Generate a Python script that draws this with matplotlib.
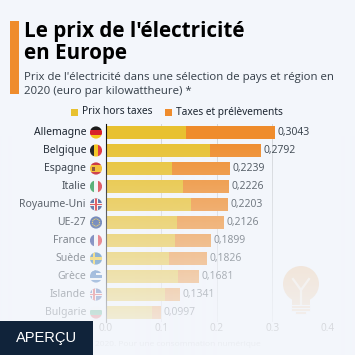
import numpy as np
import matplotlib
matplotlib.use('Agg')
import matplotlib.pyplot as plt
from matplotlib.patches import Circle, Rectangle

# data
pays = ['Allemagne', 'Belgique', 'Espagne', 'Italie', 'Royaume-Uni', 'UE-27',
        'France', 'Suède', 'Grèce', 'Islande', 'Bulgarie']
total = [0.3043, 0.2792, 0.2239, 0.2226, 0.2203, 0.2126,
         0.1899, 0.1826, 0.1681, 0.1341, 0.0997]
hors_taxes = [0.1444, 0.1876, 0.1192, 0.1390, 0.1534, 0.1282,
              0.1252, 0.1138, 0.1300, 0.1067, 0.0833]
taxes = [t - h for t, h in zip(total, hors_taxes)]
ticks = [0.0, 0.1, 0.2, 0.3, 0.4]

FOND = '#f3f6fb'
JAUNE = '#e8c130'
ORANGE = '#ef8c2c'

# stripes of each flag: direction, then colours
drapeaux = {
    'Allemagne': ('h', ['#1a1a1a', '#d8232a', '#f5c518']),
    'Belgique': ('v', ['#1a1a1a', '#f5c518', '#e0303a']),
    'Espagne': ('h', ['#c8202c', '#f4b81c', '#f4b81c', '#c8202c']),
    'Italie': ('v', ['#2f9e55', '#f4f4f4', '#d9363e']),
    'Royaume-Uni': ('h', ['#2b4a8c']),
    'UE-27': ('h', ['#2f4f98']),
    'France': ('v', ['#2b3f95', '#f4f4f4', '#e0303a']),
    'Suède': ('h', ['#1f68a8']),
    'Grèce': ('h', ['#2a65b0', '#f4f4f4', '#2a65b0', '#f4f4f4', '#2a65b0']),
    'Islande': ('h', ['#274b9b']),
    'Bulgarie': ('h', ['#f4f4f4', '#2a9a6a', '#d9363e']),
}
# crosses: colour, thickness
croix = {
    'Royaume-Uni': [('#f4f4f4', 3.4), ('#d8232a', 1.8)],
    'Suède': [('#f5c518', 2.6)],
    'Islande': [('#f4f4f4', 3.6), ('#d8232a', 1.8)],
}

plt.rcParams['font.family'] = ['Open Sans', 'DejaVu Sans']

W, H = 355, 355
fig = plt.figure(figsize=(W / 100, H / 100), dpi=100, facecolor=FOND)

# chart axes
ax = fig.add_axes([105.7 / W, 1 - 321.5 / H, 222.3 / W, 198 / H], facecolor='none')
y = np.arange(len(pays))
ax.barh(y, hors_taxes, height=0.72, color=JAUNE, zorder=3)
ax.barh(y, taxes, left=hors_taxes, height=0.72, color=ORANGE, zorder=3)
for i, t in enumerate(total):
    ax.text(t + 0.0045, i, ('%.4f' % t).replace('.', ','), va='center', ha='left',
            fontsize=7.5, color='#333d47', zorder=4)
ax.set_xlim(0, 0.4)
ax.set_ylim(len(pays) - 0.5, -0.5)
ax.set_xticks(ticks)
ax.set_xticklabels(['%.1f' % t for t in ticks], fontsize=7.2, color='#333333')
ax.set_yticks([])
ax.tick_params(axis='x', length=0, pad=1)
ax.grid(axis='x', color='#d5d8dc', lw=0.7, zorder=1)
for s in ['top', 'right', 'bottom']:
    ax.spines[s].set_visible(False)
ax.spines['left'].set_color('#111111')
ax.spines['left'].set_linewidth(0.8)
ax.spines['left'].set_zorder(5)

# overlay in pixel coordinates for everything else
px = fig.add_axes([0, 0, 1, 1], facecolor='none')
px.set_xlim(0, W)
px.set_ylim(H, 0)
px.axis('off')

for i, nom in enumerate(pays):
    cy = 132.5 + 18 * i
    px.text(86, cy, nom, ha='right', va='center', fontsize=7.5, color='#1c2530',
            family=['Noto Sans', 'DejaVu Sans'])
    rond = Circle((96, cy), 6.1, transform=px.transData)
    sens, couleurs = drapeaux[nom]
    n = len(couleurs)
    for k, c in enumerate(couleurs):
        if sens == 'h':
            r = Rectangle((90, cy - 6.2 + k * 12.4 / n), 12, 12.4 / n, color=c, lw=0, zorder=2)
        else:
            r = Rectangle((90 + k * 12.2 / n, cy - 6.2), 12.2 / n, 12.4, color=c, lw=0, zorder=2)
        px.add_patch(r)
        r.set_clip_path(rond)
    if nom in croix:
        for c, e in croix[nom]:
            cx = 94 if nom != 'Royaume-Uni' else 96
            for r in [Rectangle((cx - e / 2, cy - 6.2), e, 12.4, color=c, lw=0, zorder=3),
                      Rectangle((89.5, cy - e / 2), 13, e, color=c, lw=0, zorder=3)]:
                px.add_patch(r)
                r.set_clip_path(rond)
    if nom == 'UE-27':
        for a in np.linspace(0, 2 * np.pi, 12, endpoint=False):
            px.add_patch(Circle((96 + 3.6 * np.cos(a), cy + 3.6 * np.sin(a)), 0.6,
                                color='#f5c518', lw=0, zorder=3))
    if nom == 'Espagne':
        px.add_patch(Rectangle((92, cy - 2), 3, 4, color='#7a3b1e', lw=0, zorder=3))
    if nom == 'Grèce':
        r = Rectangle((90, cy - 6.2), 5.5, 5.5, color='#2a65b0', lw=0, zorder=3)
        px.add_patch(r)
        r.set_clip_path(rond)

# light bulb behind the fade
BULBE = '#efcfae'
px.add_patch(Circle((301, 284), 18, color=BULBE, lw=0, zorder=1))
px.add_patch(Rectangle((292, 296), 18, 9, color=BULBE, lw=0, zorder=1))
px.plot([293, 301, 309], [279, 290, 279], color='#f6ecdf', lw=1.6, zorder=1)
px.plot([301, 301], [290, 304], color='#f6ecdf', lw=1.6, zorder=1)
for yy in [306.5, 309.5]:
    px.plot([293, 309], [yy, yy], color=BULBE, lw=1.5, zorder=1)
px.plot([297, 305], [312.5, 312.5], color=BULBE, lw=1.5, zorder=1)

px.text(95, 344, '2020. Pour une consommation numérique', fontsize=6.0,
        color='#888888', va='center', zorder=1)

# fade to the background towards the bottom
alpha = np.clip((np.arange(H) - 135) / (350 - 135), 0, 1) * 0.96
fade = np.zeros((H, 1, 4))
fade[:, 0, :3] = matplotlib.colors.to_rgb(FOND)
fade[:, 0, 3] = alpha
px.imshow(fade, extent=[0, W, H, 0], aspect='auto', zorder=8, interpolation='bilinear')
px.set_xlim(0, W)
px.set_ylim(H, 0)

# header
px.add_patch(Rectangle((10, 21), 9, 73, color=ORANGE, lw=0, zorder=9))
px.text(24, 36.5, "Le prix de l'électricité", fontsize=14.9, fontweight='bold',
        color='black', zorder=9)
px.text(24, 59, 'en Europe', fontsize=14.9, fontweight='bold', color='black', zorder=9)
px.text(24, 80, "Prix de l'électricité dans une sélection de pays et région en",
        fontsize=8.2, color='#333d47', zorder=9)
px.text(24, 94, '2020 (euro par kilowattheure) *', fontsize=8.2, color='#333d47', zorder=9)

# legend
px.add_patch(Rectangle((70.5, 108.5), 7, 7, color=JAUNE, lw=0, zorder=9))
px.text(82, 112, 'Prix hors taxes', fontsize=7.3, va='center', color='#1c2530',
        family=['Noto Sans', 'DejaVu Sans'], zorder=9)
px.add_patch(Rectangle((165, 108.5), 7, 7, color=ORANGE, lw=0, zorder=9))
px.text(176, 112, 'Taxes et prélèvements', fontsize=7.3, va='center', color='#1c2530',
        family=['Noto Sans', 'DejaVu Sans'], zorder=9)

# preview badge
px.add_patch(Rectangle((0, 321), 93, 34, color='#10233a', lw=0, zorder=10))
px.text(47, 338, 'APERÇU', fontsize=10.5, color='white', ha='center', va='center',
        family=['Liberation Sans', 'DejaVu Sans'], zorder=11)

fig.savefig('out.png', dpi=100, facecolor=FOND)
